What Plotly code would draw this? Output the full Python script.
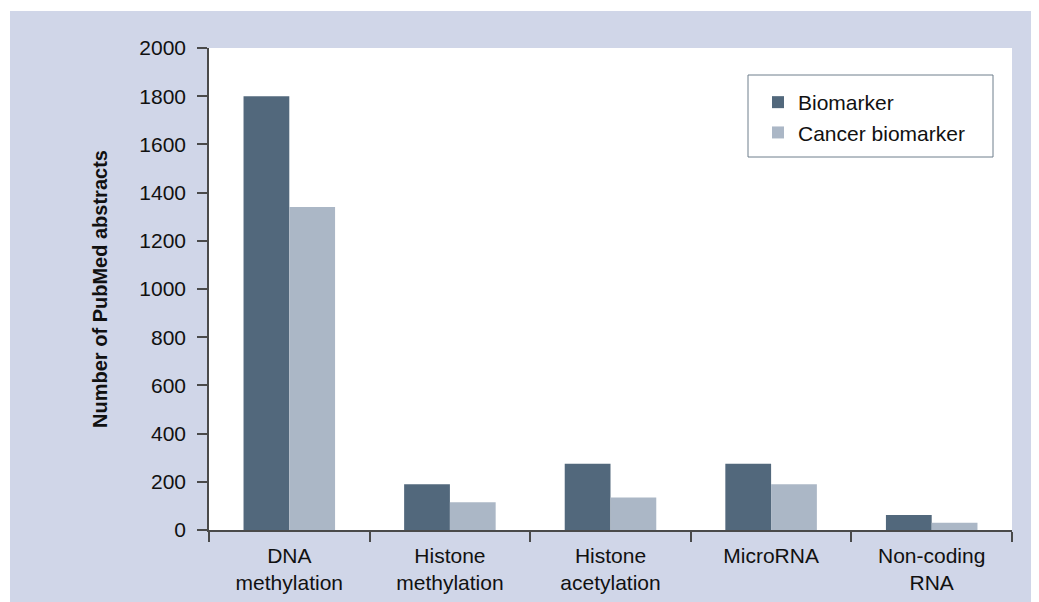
import plotly.graph_objects as go

categories = ["DNA<br>methylation", "Histone<br>methylation", "Histone<br>acetylation", "MicroRNA", "Non-coding<br>RNA"]
biomarker = [1800, 190, 275, 275, 62]
cancer_biomarker = [1340, 115, 135, 190, 30]
y_ticks = [0, 200, 400, 600, 800, 1000, 1200, 1400, 1600, 1800, 2000]

# figure is drawn at an 8px page offset, so figure coords = screen coords - 8
W, H = 1031, 594
L, R, T, B = 201, 27, 40, 72
pw, ph = W - L - R, H - T - B

BG = "#d0d6e8"
C1 = "#52687c"
C2 = "#abb7c6"
AX = "#4a4a4a"
FONT = "Liberation Sans, Arial, sans-serif"
TXT = "#111111"

fig = go.Figure()
fig.add_trace(go.Bar(name="Biomarker", x=categories, y=biomarker, marker=dict(color=C1, line=dict(width=0))))
fig.add_trace(go.Bar(name="Cancer biomarker", x=categories, y=cancer_biomarker, marker=dict(color=C2, line=dict(width=0))))

def px_x(x):
    return (x - L) / pw

def px_y(y):
    return (H - B - y) / ph

shapes = [
    dict(type="rect", xref="paper", yref="paper", x0=px_x(0), x1=px_x(W), y0=px_y(3), y1=px_y(0),
         fillcolor="white", line=dict(width=0), layer="below"),
    dict(type="rect", xref="paper", yref="paper", x0=px_x(0), x1=px_x(2), y0=px_y(H), y1=px_y(0),
         fillcolor="white", line=dict(width=0), layer="below"),
    # legend box
    dict(type="rect", xref="paper", yref="paper", x0=px_x(740), x1=px_x(985), y0=px_y(149), y1=px_y(67),
         fillcolor="white", line=dict(color="#6f7f8c", width=1), layer="above"),
]

fig.update_layout(
    width=W, height=H,
    margin=dict(l=L, r=R, t=T, b=B, pad=0, autoexpand=False),
    paper_bgcolor=BG,
    plot_bgcolor="white",
    font=dict(family=FONT, size=21, color=TXT),
    barmode="group",
    bargap=0.43,
    bargroupgap=0,
    showlegend=True,
    legend=dict(x=px_x(750), y=px_y(74), xanchor="left", yanchor="top",
                bgcolor="rgba(0,0,0,0)", borderwidth=0,
                font=dict(family=FONT, size=21, color=TXT),
                itemwidth=30, tracegroupgap=0),
    shapes=shapes,
    xaxis=dict(
        showline=True, linecolor=AX, linewidth=1.5,
        ticks="outside", tickson="boundaries", ticklen=10, tickcolor=AX, tickwidth=1.5,
        ticklabelstandoff=6, automargin=False,
        showgrid=False, zeroline=False,
        tickfont=dict(family=FONT, size=21, color=TXT),
    ),
    yaxis=dict(
        range=[0, 2000], tickvals=y_ticks,
        showline=True, linecolor=AX, linewidth=1.5,
        ticks="outside", ticklen=10, tickcolor=AX, tickwidth=1.5,
        ticklabelstandoff=7, automargin=False,
        showgrid=False, zeroline=False,
        tickfont=dict(family=FONT, size=21, color=TXT),
        title=dict(text="<b>Number of PubMed abstracts</b>", font=dict(family=FONT, size=20, color=TXT), standoff=26),
    ),
)

fig.write_html("out.html", config={"displayModeBar": False})
